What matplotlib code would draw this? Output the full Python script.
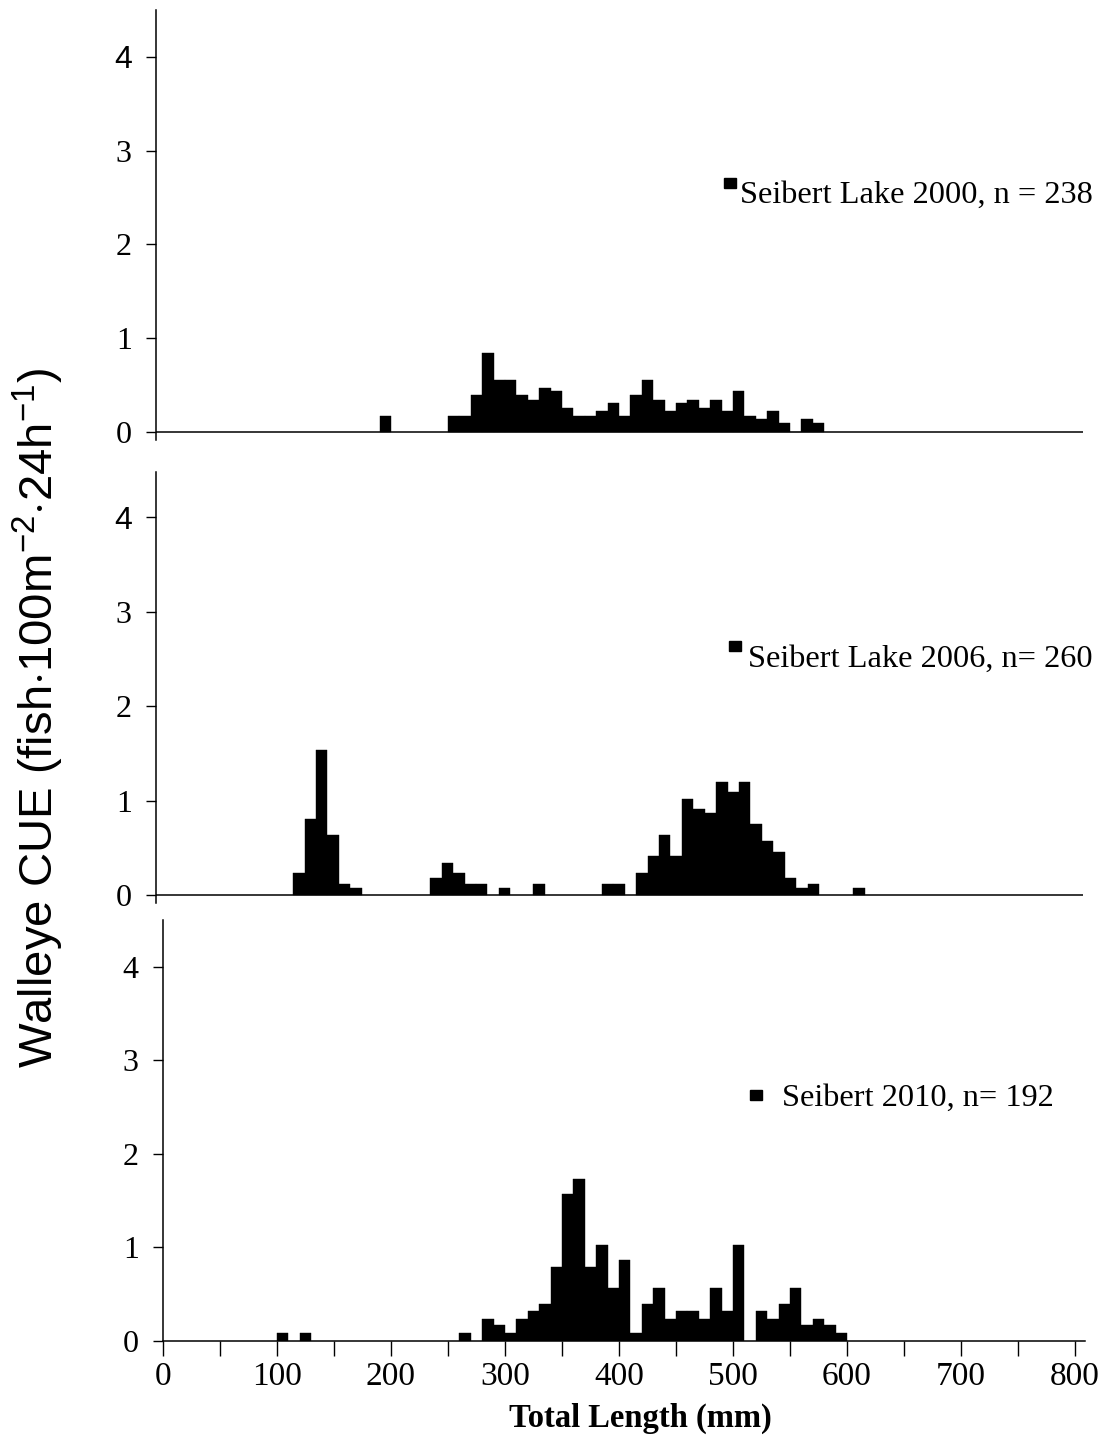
import numpy as np
import matplotlib
matplotlib.use("Agg")
import matplotlib.pyplot as plt
from matplotlib.patches import Rectangle

plt.rcParams['font.family'] = ['Liberation Serif', 'DejaVu Serif']
plt.rcParams['mathtext.fontset'] = 'custom'
plt.rcParams['mathtext.rm'] = 'Liberation Sans'

# total length bins (lower edge, mm) and walleye CUE
len_2000 = [190, 250, 260, 270, 280, 290, 300, 310, 320, 330, 340, 350, 360, 370, 380,
            390, 400, 410, 420, 430, 440, 450, 460, 470, 480, 490, 500, 510, 520, 530,
            540, 550, 560, 570]
cue_2000 = [0.17, 0.17, 0.17, 0.39, 0.84, 0.55, 0.55, 0.39, 0.34, 0.47, 0.44, 0.26, 0.17,
            0.17, 0.22, 0.31, 0.17, 0.39, 0.55, 0.34, 0.22, 0.31, 0.34, 0.26, 0.34, 0.22,
            0.44, 0.17, 0.14, 0.22, 0.10, 0.0, 0.14, 0.10]

len_2006 = [120, 130, 140, 150, 160, 170, 240, 250, 260, 270, 280, 300, 330, 390, 400,
            420, 430, 440, 450, 460, 470, 480, 490, 500, 510, 520, 530, 540, 550, 560,
            570, 610]
cue_2006 = [0.23, 0.80, 1.54, 0.635, 0.12, 0.07, 0.18, 0.34, 0.23, 0.12, 0.12, 0.07, 0.12,
            0.12, 0.12, 0.23, 0.41, 0.635, 0.41, 1.02, 0.91, 0.865, 1.20, 1.09, 1.20, 0.75,
            0.57, 0.46, 0.18, 0.07, 0.12, 0.07]

len_2010 = [100, 120, 260, 280, 290, 300, 310, 320, 330, 340, 350, 360, 370, 380, 390,
            400, 410, 420, 430, 440, 450, 460, 470, 480, 490, 500, 520, 530, 540, 550,
            560, 570, 580, 590]
cue_2010 = [0.09, 0.09, 0.09, 0.24, 0.17, 0.09, 0.24, 0.32, 0.40, 0.79, 1.57, 1.73, 0.79,
            1.03, 0.565, 0.87, 0.09, 0.40, 0.565, 0.24, 0.32, 0.32, 0.24, 0.565, 0.32, 1.03,
            0.32, 0.24, 0.40, 0.565, 0.17, 0.24, 0.17, 0.09]

labels = ["Seibert Lake 2000, n = 238", "Seibert Lake 2006, n= 260", "Seibert 2010, n= 192"]

W, H = 1110, 1437
fig = plt.figure(figsize=(W / 100, H / 100), dpi=100)

def px_axes(left, right, top, bottom):
    return fig.add_axes([left / W, 1 - bottom / H, (right - left) / W, (bottom - top) / H])

ax1 = px_axes(156, 1083, 10, 440)
ax2 = px_axes(156, 1083, 472, 903)
ax3 = px_axes(163, 1085, 920, 1341)

panels = [(ax1, len_2000, cue_2000, (-6.1, 807), (-0.085, 4.5)),
          (ax2, len_2006, cue_2006, (0, 811), (-0.085, 4.48)),
          (ax3, len_2010, cue_2010, (0, 808.8), (0, 4.5))]

for ax, x, y, xl, yl in panels:
    ax.bar(x, y, width=10, align='edge', color='black', edgecolor='black', linewidth=0.3)
    ax.set_xlim(*xl)
    ax.set_ylim(*yl)
    for s in ['top', 'right']:
        ax.spines[s].set_visible(False)
    ax.spines['left'].set_linewidth(1.1)
    ax.set_yticks([0, 1, 2, 3, 4])
    ax.tick_params(axis='y', direction='out', length=7.5, width=1.0, pad=10, labelsize=23)

for ax in [ax1, ax2]:
    ax.spines['bottom'].set_visible(False)
    ax.axhline(0, color='black', lw=1.1)
    ax.set_xticks([])
    ax.get_yticklabels()[-1].set_fontfamily('Liberation Sans')

ax3.spines['bottom'].set_linewidth(1.1)
ax3.set_xticks(np.arange(0, 801, 100))
ax3.set_xticks(np.arange(50, 800, 100), minor=True)
ax3.tick_params(axis='x', which='both', direction='out', length=11, width=1.0, pad=4, labelsize=24)

# legend squares and text
leg = [(ax1, 724, 178, 740, 203), (ax2, 729, 641, 748, 667), (ax3, 750, 1090, 782, 1106)]
for (ax, sx, sy, tx, ty), lab in zip(leg, labels):
    fig.patches.append(Rectangle((sx / W, 1 - (sy + 10) / H), 12 / W, 10 / H,
                                 transform=fig.transFigure, color='black'))
    fig.text(tx / W, 1 - ty / H, lab, fontsize=23.3, va='baseline', ha='left')

fig.text(38 / W, 1 - 718 / H, r"Walleye CUE (fish$\cdot$100m$^{\mathregular{-2}}$$\cdot$24h$^{\mathregular{-1}}$)",
         rotation=90, ha='center', va='center', fontsize=34, family='Liberation Sans')
fig.text(640 / W, 1 - 1418 / H, "Total Length (mm)", ha='center', va='center',
         fontsize=23.5, fontweight='bold')

plt.savefig("out.png", dpi=100)
